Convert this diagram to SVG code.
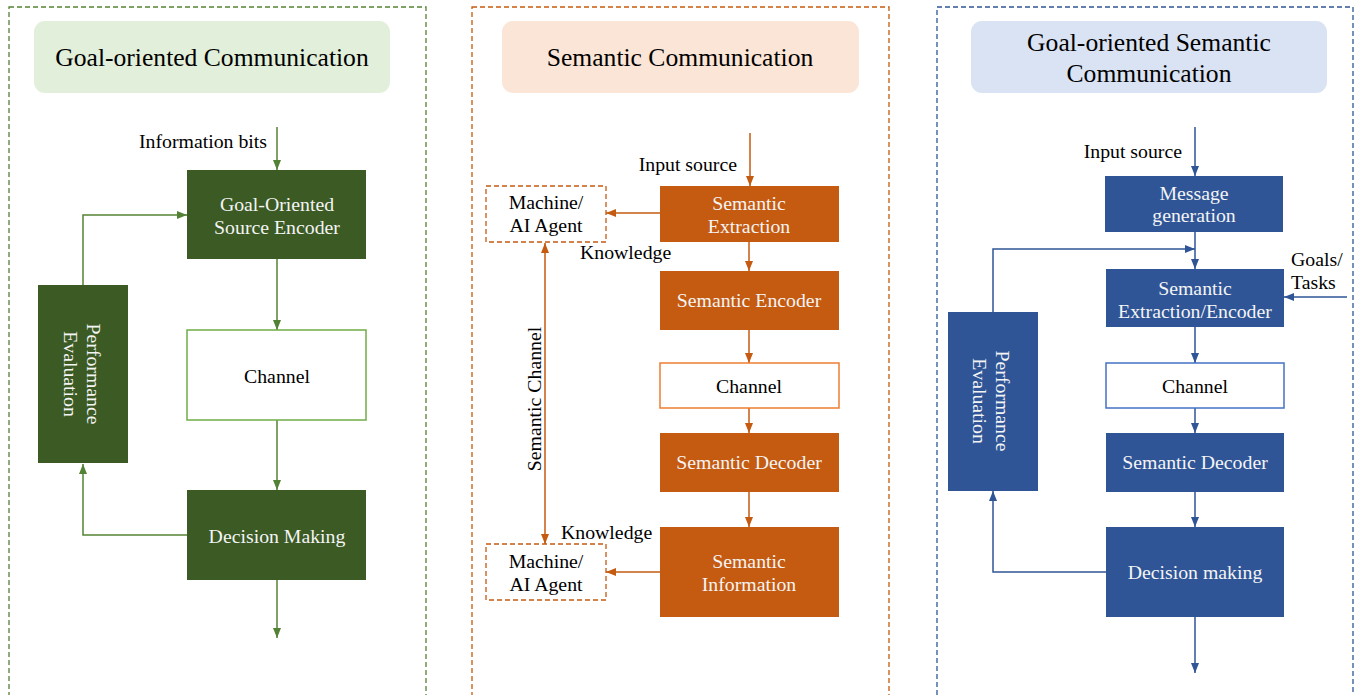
<svg xmlns="http://www.w3.org/2000/svg" width="1354" height="695" viewBox="0 0 1354 695">
<style>
text{font-family:"Liberation Serif","Times New Roman",serif;}
.t{font-size:25.6px;fill:#000;text-anchor:middle;}
.w{font-size:19.8px;fill:#f4f4f4;text-anchor:middle;}
.b{font-size:19.8px;fill:#000;text-anchor:middle;}
.l{font-size:19.8px;fill:#000;}
.g{fill:#3b5a24;}
.o{fill:#c55a11;}
.u{fill:#2f5597;}
.cg{stroke:#548235;stroke-width:1.5;fill:none;}
.co{stroke:#c55a11;stroke-width:1.5;fill:none;}
.cu{stroke:#2f5597;stroke-width:1.5;fill:none;}
.pb{fill:none;stroke-width:1.3;stroke-dasharray:5,3;}
</style>
<defs>
<marker id="ag" markerUnits="userSpaceOnUse" markerWidth="10" markerHeight="10" viewBox="0 0 10 10" refX="10" refY="5" orient="auto"><path d="M0,1 L10,5 L0,9 Z" fill="#548235"/></marker>
<marker id="ao" markerUnits="userSpaceOnUse" markerWidth="10" markerHeight="10" viewBox="0 0 10 10" refX="10" refY="5" orient="auto"><path d="M0,1 L10,5 L0,9 Z" fill="#c55a11"/></marker>
<marker id="aos" markerUnits="userSpaceOnUse" markerWidth="10" markerHeight="10" viewBox="0 0 10 10" refX="0" refY="5" orient="auto"><path d="M10,1 L0,5 L10,9 Z" fill="#c55a11"/></marker>
<marker id="au" markerUnits="userSpaceOnUse" markerWidth="10" markerHeight="10" viewBox="0 0 10 10" refX="10" refY="5" orient="auto"><path d="M0,1 L10,5 L0,9 Z" fill="#2f5597"/></marker>
</defs>
<rect width="1354" height="695" fill="#fff"/>

<g id="panel-left">
<rect class="pb" x="9" y="7" width="417" height="700" stroke="#548235"/>
<rect x="34" y="21" width="356" height="72" rx="11" fill="#e2efda"/>
<text class="t" x="212" y="66">Goal-oriented Communication</text>
</g>
<g id="panel-middle">
<rect class="pb" x="472" y="7" width="417" height="700" stroke="#c55a11"/>
<rect x="502" y="21" width="357" height="72" rx="11" fill="#fbe5d6"/>
<text class="t" x="680" y="66">Semantic Communication</text>
</g>
<g id="panel-right">
<rect class="pb" x="937" y="7" width="416" height="700" stroke="#2f5597"/>
<rect x="971" y="21" width="356" height="72" rx="11" fill="#dae3f3"/>
<text class="t" x="1149" y="51">Goal-oriented Semantic</text>
<text class="t" x="1149" y="82">Communication</text>
</g>

<g id="connectors">
<path class="cg" d="M277,127 V170" marker-end="url(#ag)"/>
<path class="cg" d="M277,259 V330" marker-end="url(#ag)"/>
<path class="cg" d="M277,420 V490" marker-end="url(#ag)"/>
<path class="cg" d="M277,580 V638" marker-end="url(#ag)"/>
<path class="cg" d="M83,285 V215 H187" marker-end="url(#ag)"/>
<path class="cg" d="M187,535 H83 V464" marker-end="url(#ag)"/>

<path class="co" d="M750,133 V186" marker-end="url(#ao)"/>
<path class="co" d="M660,213 H606" marker-end="url(#ao)"/>
<path class="co" d="M749,242 V271" marker-end="url(#ao)"/>
<path class="co" d="M749,330 V363" marker-end="url(#ao)"/>
<path class="co" d="M749,408 V433" marker-end="url(#ao)"/>
<path class="co" d="M749,492 V527" marker-end="url(#ao)"/>
<path class="co" d="M660,572 H606" marker-end="url(#ao)"/>
<path class="co" d="M545,243 V544" marker-start="url(#aos)" marker-end="url(#ao)"/>

<path class="cu" d="M1195,127 V176" marker-end="url(#au)"/>
<path class="cu" d="M1195,232 V269" marker-end="url(#au)"/>
<path class="cu" d="M993,312 V249 H1195" marker-end="url(#au)"/>
<path class="cu" d="M1347,297 H1284" marker-end="url(#au)"/>
<path class="cu" d="M1195,327 V363" marker-end="url(#au)"/>
<path class="cu" d="M1195,408 V433" marker-end="url(#au)"/>
<path class="cu" d="M1195,492 V527" marker-end="url(#au)"/>
<path class="cu" d="M1195,617 V673" marker-end="url(#au)"/>
<path class="cu" d="M1106,572 H993 V491" marker-end="url(#au)"/>
</g>

<text class="l" x="267" y="148" text-anchor="end">Information bits</text>
<g id="go-encoder"><rect class="g" x="187" y="170" width="179" height="89"/>
<text class="w" x="277" y="211">Goal-Oriented</text><text class="w" x="277" y="234">Source Encoder</text></g>
<g id="go-channel"><rect x="187" y="330" width="179" height="90" fill="#fff" stroke="#70ad47" stroke-width="1.5"/>
<text class="b" x="277" y="383">Channel</text></g>
<g id="go-decision"><rect class="g" x="187" y="490" width="179" height="90"/>
<text class="w" x="277" y="543">Decision Making</text></g>
<g id="go-perf"><rect class="g" x="38" y="285" width="90" height="178"/>
<text class="w" transform="translate(83,374) rotate(90)"><tspan x="0" y="-4">Performance</tspan><tspan x="0" y="19">Evaluation</tspan></text></g>

<text class="l" x="737" y="171" text-anchor="end">Input source</text>
<g id="sc-extraction"><rect class="o" x="660" y="186" width="179" height="56"/>
<text class="w" x="749" y="210">Semantic</text><text class="w" x="749" y="233">Extraction</text></g>
<g id="sc-agent1"><rect x="486" y="186" width="120" height="56" fill="#fff" stroke="#c55a11" stroke-width="1.3" stroke-dasharray="5,3"/>
<text class="b" x="546" y="209">Machine/</text><text class="b" x="546" y="232">AI Agent</text></g>
<text class="l" x="580" y="259">Knowledge</text>
<g id="sc-encoder"><rect class="o" x="660" y="271" width="179" height="59"/>
<text class="w" x="749" y="307">Semantic Encoder</text></g>
<g id="sc-channel"><rect x="660" y="363" width="179" height="45" fill="#fff" stroke="#ed7d31" stroke-width="1.5"/>
<text class="b" x="749" y="393">Channel</text></g>
<g id="sc-decoder"><rect class="o" x="660" y="433" width="179" height="59"/>
<text class="w" x="749" y="469">Semantic Decoder</text></g>
<g id="sc-info"><rect class="o" x="660" y="527" width="179" height="90"/>
<text class="w" x="749" y="568">Semantic</text><text class="w" x="749" y="591">Information</text></g>
<g id="sc-agent2"><rect x="486" y="544" width="120" height="56" fill="#fff" stroke="#c55a11" stroke-width="1.3" stroke-dasharray="5,3"/>
<text class="b" x="546" y="568">Machine/</text><text class="b" x="546" y="591">AI Agent</text></g>
<text class="l" x="561" y="539">Knowledge</text>
<text class="b" transform="translate(541,399) rotate(-90)" x="0" y="0">Semantic Channel</text>

<text class="l" x="1182" y="158" text-anchor="end">Input source</text>
<g id="gs-message"><rect class="u" x="1105" y="176" width="178" height="56"/>
<text class="w" x="1194" y="200">Message</text><text class="w" x="1194" y="222">generation</text></g>
<g id="gs-encoder"><rect class="u" x="1106" y="269" width="178" height="58"/>
<text class="w" x="1195" y="295">Semantic</text><text class="w" x="1195" y="318">Extraction/Encoder</text></g>
<text class="l" x="1291" y="266">Goals/</text>
<text class="l" x="1291" y="289">Tasks</text>
<g id="gs-channel"><rect x="1106" y="363" width="178" height="45" fill="#fff" stroke="#4472c4" stroke-width="1.5"/>
<text class="b" x="1195" y="393">Channel</text></g>
<g id="gs-decoder"><rect class="u" x="1106" y="433" width="178" height="59"/>
<text class="w" x="1195" y="469">Semantic Decoder</text></g>
<g id="gs-decision"><rect class="u" x="1106" y="527" width="178" height="90"/>
<text class="w" x="1195" y="579">Decision making</text></g>
<g id="gs-perf"><rect class="u" x="948" y="312" width="90" height="179"/>
<text class="w" transform="translate(993,401) rotate(90)"><tspan x="0" y="-3">Performance</tspan><tspan x="0" y="20">Evaluation</tspan></text></g>
</svg>
